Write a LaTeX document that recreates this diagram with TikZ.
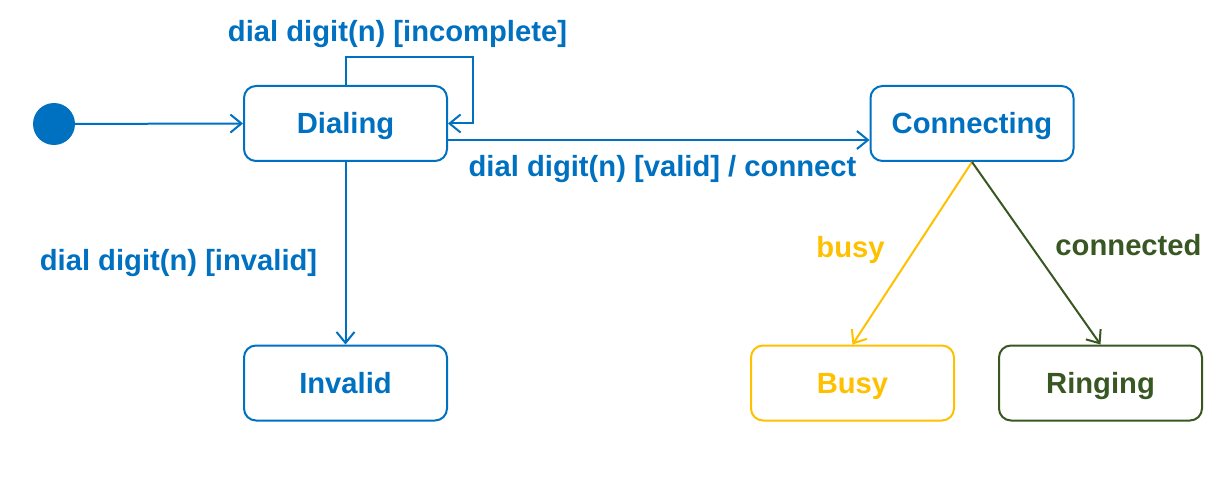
\documentclass[tikz,border=0pt]{standalone}
\usepackage{fontspec}
\setmainfont{Liberation Sans}
\usetikzlibrary{arrows.meta}
\definecolor{umlblue}{HTML}{0070C0}
\definecolor{umlyellow}{HTML}{FFC000}
\definecolor{umlgreen}{HTML}{385723}
\begin{document}
\begin{tikzpicture}[x=1pt,y=-1pt,
  every node/.style={font=\fontsize{29.2}{31}\selectfont\bfseries},
  state/.style={draw, line width=2pt, rounded corners=12pt, minimum width=203pt, minimum height=75pt, inner sep=0pt, text height=20.9pt, text depth=0pt},
  lbl/.style={inner sep=0pt, text height=20.9pt, text depth=0pt},
  arr/.style={line width=2pt, -{Straight Barb[length=11pt,width=18pt,line width=2pt]}}]
\useasboundingbox (0,0) rectangle (1224,481);
\node[circle, fill=umlblue, minimum size=42pt, inner sep=0pt] (init) at (54,124) {};
\node[state, umlblue] (dial) at (345.5,123.5) {Dialing};
\node[state, umlblue] (conn) at (972,123.5) {Connecting};
\node[state, umlblue] (inv) at (345.5,383) {Invalid};
\node[state, umlyellow] (busy) at (852.5,383) {Busy};
\node[state, umlgreen] (ring) at (1100.5,383) {Ringing};
\coordinate (loopc) at (473,57);
\draw[arr, umlblue] (init) -- (dial.west);
\draw[arr, umlblue] (dial.north) |- (loopc) |- (dial.east);
\draw[arr, umlblue] ([yshift=-16.5pt]dial.east) -- ([yshift=-16.5pt]conn.west);
\draw[arr, umlblue] (dial.south) -- (inv.north);
\draw[arr, umlyellow] (conn.south) -- (busy.north);
\draw[arr, umlgreen] (conn.south) -- (ring.north);
\node[lbl, umlblue] (l1) at (397.5,31) {dial digit(n) [incomplete]};
\node[lbl, umlblue] (l2) at (662.5,166) {dial digit(n) [valid] / connect};
\node[lbl, umlblue] (l3) at (178.5,260) {dial digit(n) [invalid]};
\node[lbl, umlyellow] (l4) at (850.5,247) {busy};
\node[lbl, umlgreen] (l5) at (1128.5,245) {connected};
\end{tikzpicture}
\end{document}
